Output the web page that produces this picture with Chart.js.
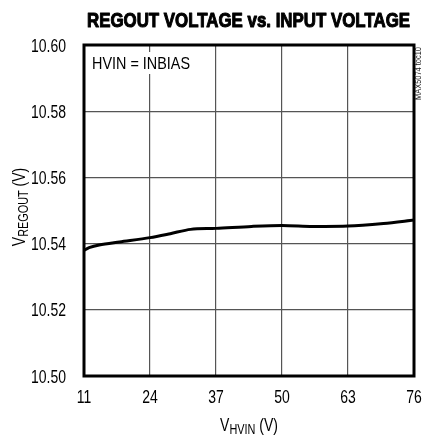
<!DOCTYPE html>
<html>
<head>
<meta charset="utf-8">
<script src="https://cdn.jsdelivr.net/npm/chart.js@4.4.1/dist/chart.umd.min.js"></script>
<style>
html,body{margin:0;padding:0;background:#fff;}
#wrap{width:422px;height:436px;position:relative;}
</style>
</head>
<body>
<div id="wrap"><canvas id="c" width="422" height="436"></canvas></div>
<script>
const titleText = "REGOUT VOLTAGE vs. INPUT VOLTAGE";
const annotationText = "HVIN = INBIAS";
const sideLabel = "MAX5074 toc10";
const xTicks = [11, 24, 37, 50, 63, 76];
const yTicks = [10.50, 10.52, 10.54, 10.56, 10.58, 10.60];
const vhvin = [11, 12, 14, 18, 24, 28, 32, 37, 44, 50, 56, 63, 70, 76];
const vregout = [10.5379, 10.5388, 10.5396, 10.5405, 10.5418, 10.5430, 10.5443, 10.5446, 10.5452, 10.5455, 10.5452, 10.5453, 10.5461, 10.5471];

const FONT = "'Liberation Sans', Arial, sans-serif";

function drawSqueezed(ctx, text, x, y, align, sx, strokeW) {
  const w = ctx.measureText(text).width * sx;
  let left = x;
  if (align === 'center') left = x - w / 2;
  else if (align === 'right') left = x - w;
  ctx.save();
  ctx.translate(left, y);
  ctx.scale(sx, 1);
  ctx.textAlign = 'left';
  ctx.fillText(text, 0, 0);
  if (strokeW) {
    ctx.lineWidth = strokeW;
    ctx.strokeStyle = ctx.fillStyle;
    ctx.lineJoin = 'round';
    ctx.strokeText(text, 0, 0);
  }
  ctx.restore();
  return w;
}

const decor = {
  id: 'decor',
  afterDraw(chart) {
    const ctx = chart.ctx;
    const a = chart.chartArea;
    const xs = chart.scales.x, ys = chart.scales.y;
    ctx.save();
    ctx.textBaseline = 'alphabetic';
    // frame
    ctx.strokeStyle = '#000';
    ctx.lineWidth = 3;
    ctx.strokeRect(a.left, a.top, a.right - a.left, a.bottom - a.top);
    ctx.fillStyle = '#000';
    // tick labels (from the library's scales)
    ctx.font = "18px " + FONT;
    const tsx = 35 / ctx.measureText("10.60").width;
    xs.ticks.forEach(t => {
      drawSqueezed(ctx, String(t.value), xs.getPixelForValue(t.value), 403, 'center', tsx);
    });
    ys.ticks.forEach(t => {
      drawSqueezed(ctx, t.value.toFixed(2), 66, ys.getPixelForValue(t.value) + 6.5, 'right', tsx);
    });
    // title
    ctx.font = "bold 21px " + FONT;
    const ttw = ctx.measureText(titleText).width;
    drawSqueezed(ctx, titleText, 87, 27, 'left', 323 / ttw, 1.1);
    // annotation with white background
    ctx.font = "17px " + FONT;
    const asx = 98 / ctx.measureText(annotationText).width;
    ctx.fillStyle = '#fff';
    ctx.fillRect(a.left + 6, a.top + 7, 102, 22);
    ctx.fillStyle = '#000';
    drawSqueezed(ctx, annotationText, 92, 69, 'left', asx);
    // side label
    ctx.save();
    ctx.font = "9px " + FONT;
    ctx.fillStyle = '#222';
    const ssx = 53 / ctx.measureText(sideLabel).width;
    ctx.translate(421, 100);
    ctx.rotate(-Math.PI / 2);
    drawSqueezed(ctx, sideLabel, 0, 0, 'left', ssx);
    ctx.restore();
    // x axis title with subscript
    const big = "18px " + FONT, small = "14px " + FONT;
    const sx = tsx;
    ctx.font = big; const w1 = ctx.measureText("V").width * sx;
    ctx.font = small; const w2 = ctx.measureText("HVIN").width * sx;
    ctx.font = big; const w3 = ctx.measureText(" (V)").width * sx;
    let x0 = (a.left + a.right) / 2 - (w1 + w2 + w3) / 2;
    ctx.font = big; drawSqueezed(ctx, "V", x0, 431, 'left', sx);
    ctx.font = small; drawSqueezed(ctx, "HVIN", x0 + w1, 434, 'left', sx);
    ctx.font = big; drawSqueezed(ctx, " (V)", x0 + w1 + w2, 431, 'left', sx);
    // y axis title with subscript
    ctx.font = big; const v1 = ctx.measureText("V").width * sx;
    ctx.font = small; const v2 = ctx.measureText("REGOUT").width * sx;
    ctx.font = big; const v3 = ctx.measureText(" (V)").width * sx;
    ctx.save();
    ctx.translate(25, 207 + (v1 + v2 + v3) / 2);
    ctx.rotate(-Math.PI / 2);
    ctx.font = big; drawSqueezed(ctx, "V", 0, 0, 'left', sx);
    ctx.font = small; drawSqueezed(ctx, "REGOUT", v1, 3, 'left', sx);
    ctx.font = big; drawSqueezed(ctx, " (V)", v1 + v2, 0, 'left', sx);
    ctx.restore();
    ctx.restore();
  }
};

new Chart(document.getElementById('c'), {
  type: 'line',
  data: {
    datasets: [{
      data: vhvin.map((x, i) => ({x: x, y: vregout[i]})),
      borderColor: '#000',
      borderWidth: 3,
      pointRadius: 0,
      tension: 0.3,
      fill: false
    }]
  },
  options: {
    responsive: false,
    animation: false,
    devicePixelRatio: 1,
    layout: { padding: { top: 45, right: 8, left: 0, bottom: 0 } },
    plugins: { legend: { display: false }, tooltip: { enabled: false } },
    scales: {
      x: {
        type: 'linear',
        min: xTicks[0], max: xTicks[xTicks.length - 1],
        afterBuildTicks: s => { s.ticks = xTicks.map(v => ({value: v})); },
        afterFit: s => { s.height = 60; },
        grid: { color: '#555', lineWidth: 1.2, drawTicks: false },
        border: { display: false },
        ticks: { display: false }
      },
      y: {
        type: 'linear',
        min: yTicks[0], max: yTicks[yTicks.length - 1],
        afterBuildTicks: s => { s.ticks = yTicks.map(v => ({value: v})); },
        afterFit: s => { s.width = 84; },
        grid: { color: '#555', lineWidth: 1.2, drawTicks: false },
        border: { display: false },
        ticks: { display: false }
      }
    }
  },
  plugins: [decor]
});
</script>
</body>
</html>
